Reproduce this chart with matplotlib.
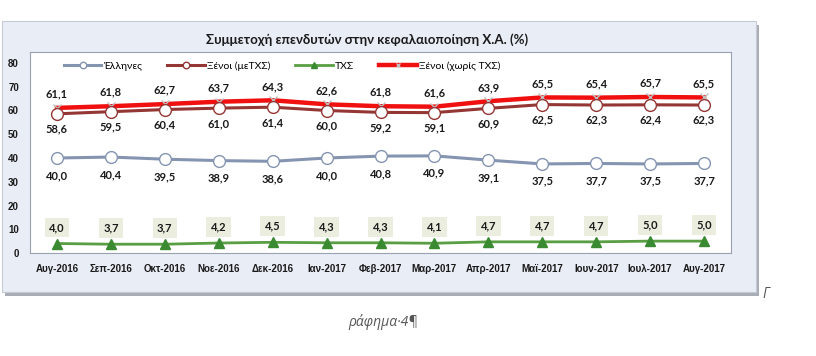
import matplotlib.pyplot as plt
from matplotlib.patches import Rectangle

# data
months = ['Αυγ-2016', 'Σεπ-2016', 'Οκτ-2016', 'Νοε-2016', 'Δεκ-2016', 'Ιαν-2017', 'Φεβ-2017',
          'Μαρ-2017', 'Απρ-2017', 'Μαϊ-2017', 'Ιουν-2017', 'Ιουλ-2017', 'Αυγ-2017']
ellines = [40.0, 40.4, 39.5, 38.9, 38.6, 40.0, 40.8, 40.9, 39.1, 37.5, 37.7, 37.5, 37.7]
xenoi_me = [58.6, 59.5, 60.4, 61.0, 61.4, 60.0, 59.2, 59.1, 60.9, 62.5, 62.3, 62.4, 62.3]
txs = [4.0, 3.7, 3.7, 4.2, 4.5, 4.3, 4.3, 4.1, 4.7, 4.7, 4.7, 5.0, 5.0]
xenoi_xoris = [61.1, 61.8, 62.7, 63.7, 64.3, 62.6, 61.8, 61.6, 63.9, 65.5, 65.4, 65.7, 65.5]

W, H = 816, 356
fig = plt.figure(figsize=(W / 100, H / 100), dpi=100)
fig.patch.set_facecolor('white')
plt.rcParams['font.family'] = ['Lato', 'DejaVu Sans']

def px(x0, y0, x1, y1):
    # pixel box (top-left origin) -> figure fraction rect
    return [x0 / W, 1 - y1 / H, (x1 - x0) / W, (y1 - y0) / H]

# outer chart frame with shadow
fig.patches.append(Rectangle((5 / W, 1 - 296 / H), 754 / W, 271 / H, transform=fig.transFigure,
                             facecolor='#a9adb5', edgecolor='none', zorder=-2))
fig.patches.append(Rectangle((2 / W, 1 - 292 / H), 754 / W, 271 / H, transform=fig.transFigure,
                             facecolor='#e9edf6', edgecolor='#c5cad6', lw=0.8, zorder=-1))

fig.text(367 / W, 1 - 40 / H, 'Συμμετοχή επενδυτών στην κεφαλαιοποίηση Χ.Α. (%)',
         ha='center', va='center', fontsize=9.5, fontweight='bold', color='#1a1a1a')

ax = fig.add_axes(px(30, 52, 731, 253))
ax.set_zorder(2)
ax.set_facecolor('white')
for s in ax.spines.values():
    s.set_color('#9aa2b2')
    s.set_linewidth(0.8)

x = list(range(len(months)))
ax.plot(x, ellines, color='#8595b1', lw=2.2, marker='o', ms=8.5, mfc='white',
        mec='#8595b1', mew=1.0, label='Έλληνες', zorder=3)
ax.plot(x, xenoi_me, color='#943634', lw=2.2, marker='o', ms=8.5, mfc='white',
        mec='#943634', mew=1.0, label='Ξένοι (μεΤΧΣ)', zorder=4)
ax.plot(x, txs, color='#5a9e44', lw=2.0, marker='^', ms=7.5, mfc='#3a8a32',
        mec='#3a8a32', label='ΤΧΣ', zorder=3)
ax.plot(x, xenoi_xoris, color='#f01010', lw=3.2, marker='x', ms=6, mec='#c0c0c0',
        mew=1.0, label='Ξένοι (χωρίς ΤΧΣ)', zorder=3)

lab = dict(ha='center', va='center', fontsize=8, fontweight='bold', color='#1a1a1a',
           textcoords='offset points')
for i in x:
    ax.annotate(f'{xenoi_xoris[i]:.1f}'.replace('.', ','), (i, xenoi_xoris[i]), xytext=(0, 10), **lab)
    ax.annotate(f'{xenoi_me[i]:.1f}'.replace('.', ','), (i, xenoi_me[i]), xytext=(0, -11), **lab)
    ax.annotate(f'{ellines[i]:.1f}'.replace('.', ','), (i, ellines[i]), xytext=(0, -12.5), **lab)
    ax.annotate(f'{txs[i]:.1f}'.replace('.', ','), (i, txs[i]), xytext=(0, 11.5), zorder=5,
                bbox=dict(boxstyle='square,pad=0.4', fc='#ebeedf', ec='none'), **lab)

ax.set_xlim(-0.5, len(months) - 0.5)
ax.set_ylim(0, 80 * 201 / 190)
ax.set_yticks(range(0, 81, 10))
ax.set_xticks(x)
ax.set_xticklabels(months)
ax.tick_params(length=0, labelsize=7, colors='#1a1a1a', pad=8)
ax.tick_params(axis='y', pad=8)
for t in ax.get_xticklabels() + ax.get_yticklabels():
    t.set_fontweight('bold')
    t.set_family(['Liberation Sans', 'DejaVu Sans'])

ax.legend(loc='upper left', bbox_to_anchor=(0.035, 1.0), ncol=4, frameon=False,
          fontsize=7.5, handlelength=3.6, columnspacing=2.4, handletextpad=0.2,
          borderaxespad=0.5, markerscale=0.55)

fig.text(383 / W, 1 - 322 / H, 'ράφημα·4¶', ha='center', va='center', fontsize=10,
         style='italic', color='#555555', family=['Open Sans', 'DejaVu Sans'])
fig.text(766 / W, 1 - 294 / H, 'Γ', ha='center', va='center', fontsize=10,
         style='italic', color='#555555', family=['Open Sans', 'DejaVu Sans'])

fig.savefig('out.png', dpi=100)
